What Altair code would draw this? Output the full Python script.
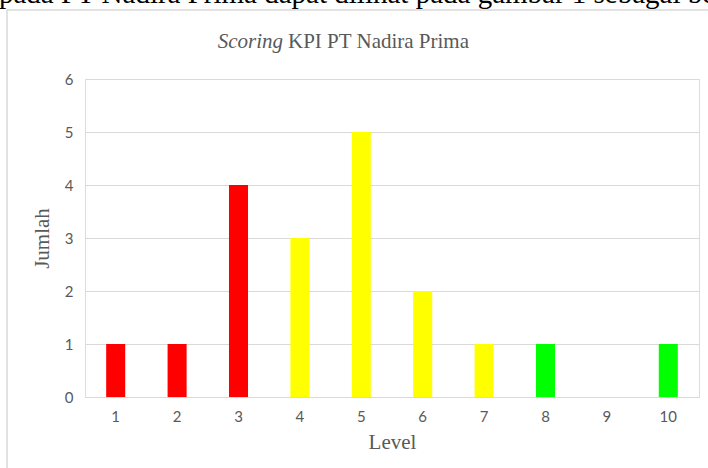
import altair as alt
import pandas as pd

levels = ["1", "2", "3", "4", "5", "6", "7", "8", "9", "10"]
counts = [1, 1, 4, 3, 5, 2, 1, 1, 0, 1]
groups = ["merah", "merah", "merah", "kuning", "kuning", "kuning", "kuning", "hijau", "hijau", "hijau"]
group_names = ["merah", "kuning", "hijau"]
group_colors = ["#ff0000", "#ffff00", "#00ff00"]

title_italic = "Scoring"
title_rest = "KPI PT Nadira Prima"
doc_text = "pada PT Nadira Prima dapat dilihat pada gambar 1 sebagai berikut"

df = pd.DataFrame({"Level": levels, "Jumlah": counts, "Grup": groups})
one = pd.DataFrame({"a": [0]})

W, H = 614, 318
PL, PT, PR, PB = 85, 79, 9, 71

bars = alt.Chart(df).mark_bar().encode(
    x=alt.X("Level:N", sort=levels,
            scale=alt.Scale(paddingInner=0.69, paddingOuter=0.345),
            axis=alt.Axis(title="Level", labelAngle=0, ticks=False, domain=True,
                          domainColor="#d9d9d9", labelPadding=12,
                          labelFont="Lato", labelFontSize=15, labelColor="#595959",
                          titleFont="Liberation Serif", titleFontSize=21,
                          titleFontWeight="normal", titleColor="#595959",
                          titlePadding=7, grid=False)),
    y=alt.Y("Jumlah:Q", scale=alt.Scale(domain=[0, 6], nice=False),
            axis=alt.Axis(title="Jumlah", values=[0, 1, 2, 3, 4, 5, 6], ticks=False,
                          domain=False, gridColor="#d9d9d9", labelPadding=12,
                          labelFont="Lato", labelFontSize=15, labelColor="#595959",
                          titleFont="Liberation Serif", titleFontSize=21,
                          titleFontWeight="normal", titleColor="#595959",
                          titlePadding=12)),
    color=alt.Color("Grup:N", scale=alt.Scale(domain=group_names, range=group_colors),
                    legend=None),
)

border = alt.Chart(one).mark_rect(fill="transparent", stroke="#d9d9d9", strokeWidth=1.5).encode(
    x=alt.value(7 - PL), x2=alt.value(W + PR + 10),
    y=alt.value(10 - PT), y2=alt.value(H + PB + 10),
)

doc = alt.Chart(one).mark_text(text=doc_text, font="Liberation Serif", fontSize=29,
                               align="left", baseline="alphabetic", color="#000000").encode(
    x=alt.value(-PL - 1), y=alt.value(3 - PT),
)

t1 = alt.Chart(one).mark_text(text=title_italic, font="Liberation Serif", fontSize=21,
                              fontStyle="italic", align="right", baseline="alphabetic",
                              color="#595959").encode(
    x=alt.value(283 - PL), y=alt.value(48 - PT),
)
t2 = alt.Chart(one).mark_text(text=title_rest, font="Liberation Serif", fontSize=21,
                              align="left", baseline="alphabetic", color="#595959").encode(
    x=alt.value(288 - PL), y=alt.value(48 - PT),
)

chart = alt.layer(border, bars, doc, t1, t2).properties(
    width=W, height=H,
    autosize=alt.AutoSizeParams(type="none"),
    padding={"left": PL, "top": PT, "right": PR, "bottom": PB},
).configure_view(strokeWidth=0).configure(background="white")

chart.save("out.html", embed_options={"renderer": "svg", "actions": False})
